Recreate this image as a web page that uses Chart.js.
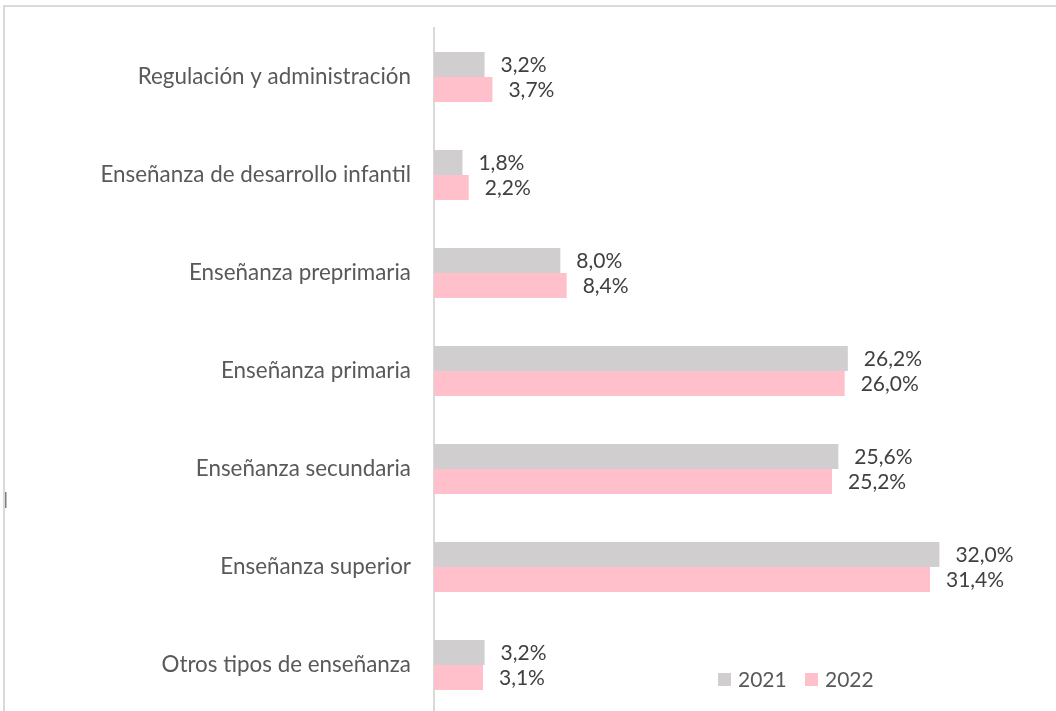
<!DOCTYPE html>
<html>
<head>
<meta charset="utf-8">
<script src="https://cdn.jsdelivr.net/npm/chart.js@4.4.1/dist/chart.umd.min.js"></script>
<style>
html,body{margin:0;padding:0;background:#fff;overflow:hidden;width:1056px;height:711px;}
#wrap{position:absolute;left:0;top:0;width:1056px;height:720px;}
</style>
</head>
<body>
<div id="wrap"><canvas id="c" width="1056" height="720"></canvas></div>
<script>
const categories = [
  "Regulación y administración",
  "Enseñanza de desarrollo infantil",
  "Enseñanza preprimaria",
  "Enseñanza primaria",
  "Enseñanza secundaria",
  "Enseñanza superior",
  "Otros tipos de enseñanza"
];
const seriesNames = ["2021", "2022"];
const values2021 = [3.2, 1.8, 8.0, 26.2, 25.6, 32.0, 3.2];
const values2022 = [3.7, 2.2, 8.4, 26.0, 25.2, 31.4, 3.1];
const colors = ["#D0CECE", "#FFC0CB"];
const FONT = "Lato, 'Open Sans', sans-serif";

const fmt = v => v.toFixed(1).replace('.', ',') + '%';

const extras = {
  id: 'extras',
  afterDatasetsDraw(chart) {
    const ctx = chart.ctx;
    ctx.save();
    // data labels
    ctx.font = "21px " + FONT;
    ctx.fillStyle = "#404040";
    ctx.textAlign = "left";
    ctx.textBaseline = "middle";
    chart.data.datasets.forEach((ds, di) => {
      const meta = chart.getDatasetMeta(di);
      meta.data.forEach((bar, i) => {
        ctx.fillText(fmt(ds.data[i]), bar.x + 16, bar.y + 1);
      });
    });
    // legend
    const lx = [718, 805];
    chart.data.datasets.forEach((ds, di) => {
      ctx.fillStyle = ds.backgroundColor;
      ctx.fillRect(lx[di], 673, 13, 13);
      ctx.fillStyle = "#595959";
      ctx.fillText(ds.label, lx[di] + 20, 680);
    });
    // outer frame
    ctx.strokeStyle = "#D9D9D9";
    ctx.lineWidth = 2;
    ctx.strokeRect(4, 6, 2000, 2000);
    ctx.fillStyle = "#7F7F7F";
    ctx.fillRect(5, 492, 1.5, 16);
    ctx.restore();
  }
};

new Chart(document.getElementById('c'), {
  type: 'bar',
  data: {
    labels: categories,
    datasets: [
      { label: seriesNames[0], data: values2021, backgroundColor: colors[0], categoryPercentage: 0.51, barPercentage: 1.0 },
      { label: seriesNames[1], data: values2022, backgroundColor: colors[1], categoryPercentage: 0.51, barPercentage: 1.0 }
    ]
  },
  options: {
    indexAxis: 'y',
    responsive: false,
    animation: false,
    layout: { padding: { left: 0, right: 6, top: 28, bottom: 6 } },
    plugins: { legend: { display: false }, tooltip: { enabled: false } },
    scales: {
      x: { display: false, min: 0, max: 39 },
      y: {
        grid: { display: false, drawTicks: false, tickLength: 0 },
        border: { display: true, color: "#D9D9D9", width: 2 },
        ticks: { color: "#595959", font: { family: FONT, size: 22.4 }, padding: 23 },
        afterFit(scale) { scale.width = 434; scale.paddingTop = 0; scale.paddingBottom = 0; }
      }
    }
  },
  plugins: [extras]
});
</script>
</body>
</html>
